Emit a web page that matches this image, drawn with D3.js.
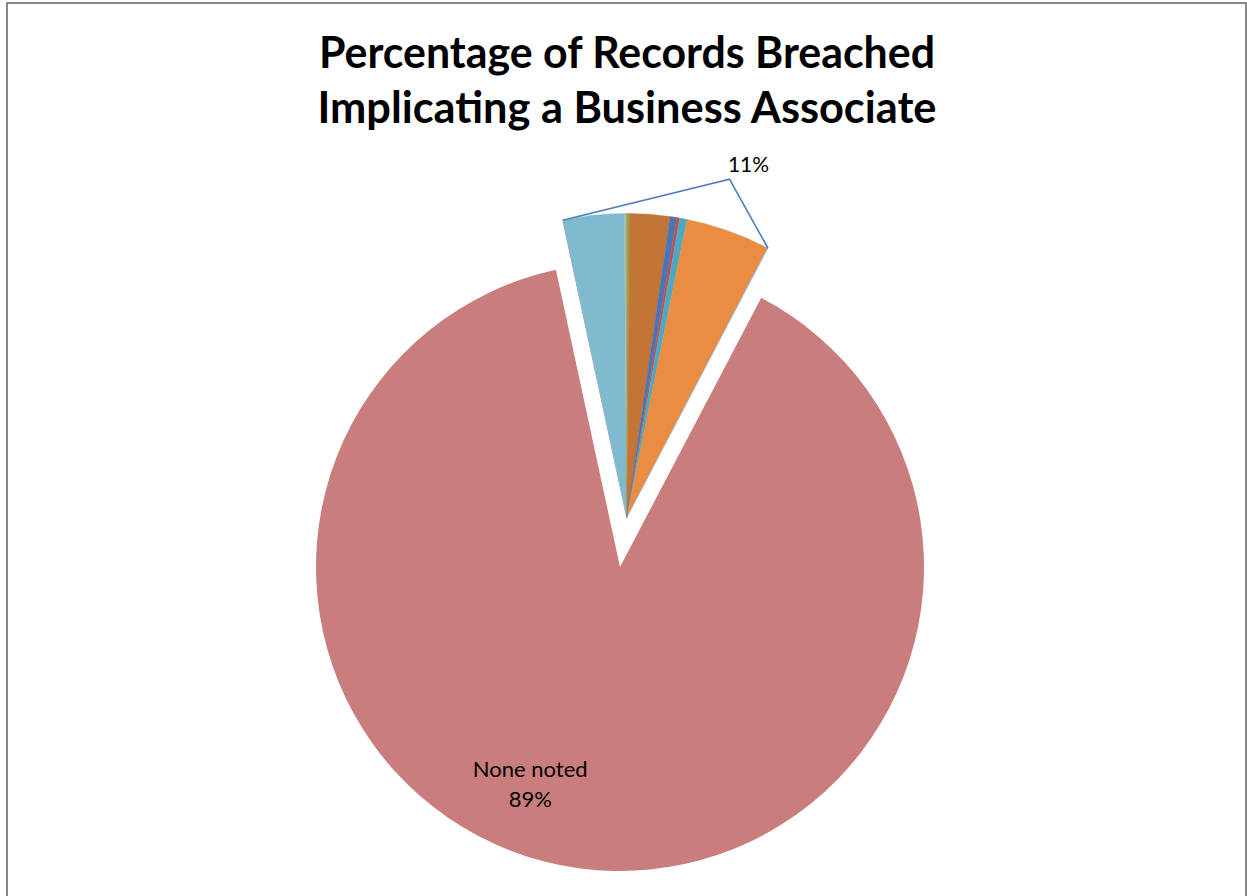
<!DOCTYPE html>
<html>
<head>
<meta charset="utf-8">
<script src="https://cdn.jsdelivr.net/npm/d3@7"></script>
<style>
  html, body { margin: 0; padding: 0; background: #fff; }
  svg { display: block; }
</style>
</head>
<body>
<svg id="chart" width="1247" height="896"></svg>
<script>
// Share of breached records by business-associate involvement (%)
const categories = [
  "BA: other (a)", "BA: software vendor", "BA: billing", "BA: paper records",
  "BA: IT services", "BA: consultant", "BA: laboratory", "BA: storage",
  "BA: electronic records", "BA: other (b)", "None noted"
];
const values = [0.03, 3.22, 0.11, 0.16, 2.14, 0.35, 0.16, 0.39, 4.48, 0.03, 88.93];
const colors = [
  "#8f7fb4", "#7fbacf", "#b3b3b3", "#8aa64f", "#c27535", "#4a75b6",
  "#c0504d", "#4ba9c3", "#e88d42", "#8fb7e0", "#c97d7c"
];
const groupLabel = "11%";
const mainLabel = ["None noted", "89%"];
const titleLines = ["Percentage of Records Breached", "Implicating a Business Associate"];

const svg = d3.select("#chart");

// chart frame
svg.append("rect")
  .attr("x", 7).attr("y", 3)
  .attr("width", 1239).attr("height", 910)
  .attr("fill", "#fff")
  .attr("stroke", "#878787").attr("stroke-width", 2);

// title
svg.append("g").selectAll("text")
  .data(titleLines)
  .join("text")
  .attr("x", 627)
  .attr("y", (d, i) => 68 + i * 55)
  .attr("text-anchor", "middle")
  .attr("font-family", "Lato, 'Open Sans', sans-serif")
  .attr("font-weight", 700)
  .attr("font-size", 43)
  .attr("fill", "#000")
  .attr("textLength", (d, i) => i === 0 ? 616 : 619)
  .attr("lengthAdjust", "spacingAndGlyphs")
  .text(d => d);

const cx = 620, cy = 567, R = 304;
const explode = 50;
const deg = Math.PI / 180;
const start = -12.17 * deg;

const pie = d3.pie().sort(null).value(d => d.v)
  .startAngle(start).endAngle(start + 2 * Math.PI);
const data = categories.map((c, i) => ({ c, v: values[i], color: colors[i] }));
const arcs = pie(data);
const arc = d3.arc().innerRadius(0).outerRadius(R);

// the small slices are pulled out together along their common bisector
const small = arcs.filter(a => a.data.c !== "None noted");
const main = arcs.find(a => a.data.c === "None noted");
const gStart = d3.min(small, a => a.startAngle);
const gEnd = d3.max(small, a => a.endAngle);
const gMid = (gStart + gEnd) / 2;
const ox = cx + explode * Math.sin(gMid);
const oy = cy - explode * Math.cos(gMid);

svg.append("path")
  .attr("transform", `translate(${cx},${cy})`)
  .attr("d", arc(main))
  .attr("fill", main.data.color);

const gSmall = svg.append("g").attr("transform", `translate(${ox},${oy})`);
gSmall.selectAll("path")
  .data(small)
  .join("path")
  .attr("d", arc)
  .attr("fill", d => d.data.color)
  .attr("stroke", d => d.data.color)
  .attr("stroke-width", 0.4);

// bracket leader from the group's outer corners up to the percentage label
const polar = (a, r) => [ox + r * Math.sin(a), oy - r * Math.cos(a)];
const pA = polar(gStart, R);
const pB = polar(gEnd, R);
const peakAngle = 16.9 * deg;
const pPeak = polar(peakAngle, R * 1.163);
svg.append("path")
  .attr("d", d3.line()([pA, pPeak, pB]))
  .attr("fill", "none")
  .attr("stroke", "#4a7ebf")
  .attr("stroke-width", 1.6);

svg.append("text")
  .attr("x", pPeak[0] + 19)
  .attr("y", pPeak[1] - 7)
  .attr("text-anchor", "middle")
  .attr("font-family", "Lato, 'Open Sans', sans-serif")
  .attr("font-size", 21)
  .attr("fill", "#000")
  .text(groupLabel);

// label inside the main slice
const la = 202.4 * deg, lr = R * 0.775;
const lx = cx + lr * Math.sin(la), ly = cy - lr * Math.cos(la);
svg.append("g").selectAll("text")
  .data(mainLabel)
  .join("text")
  .attr("x", lx)
  .attr("y", (d, i) => ly - 8 + i * 30)
  .attr("text-anchor", "middle")
  .attr("font-family", "Lato, 'Open Sans', sans-serif")
  .attr("font-size", 22)
  .attr("fill", "#000")
  .text(d => d);
</script>
</body>
</html>
